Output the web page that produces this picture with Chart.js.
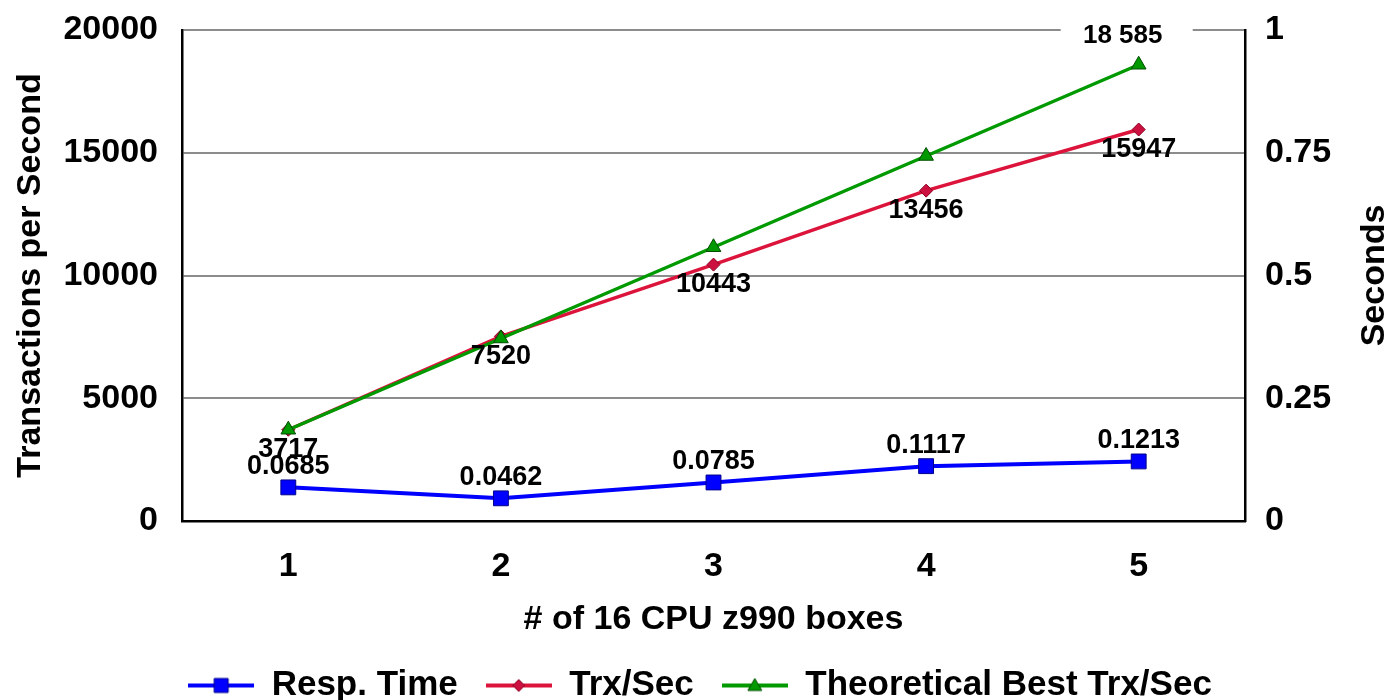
<!DOCTYPE html>
<html>
<head>
<meta charset="utf-8">
<script src="https://cdn.jsdelivr.net/npm/chart.js@4.4.1/dist/chart.umd.min.js"></script>
<style>
  body { margin: 0; background: #fff; }
  canvas { display: block; }
</style>
</head>
<body>
<canvas id="scaleChart" width="1400" height="700"></canvas>
<script>
// values
var boxes = ['1', '2', '3', '4', '5'];
var respTime = [0.0685, 0.0462, 0.0785, 0.1117, 0.1213];
var trxSec = [3717, 7520, 10443, 13456, 15947];
var bestTrxSec = [3717, 7434, 11151, 14868, 18585];
var bestLabels = ['', '', '', '', '18 585'];
var trxTicks = [0, 5000, 10000, 15000, 20000];
var secTicks = [0, 0.25, 0.5, 0.75, 1];

var FONT = '"Liberation Sans", Arial, sans-serif';

// little line + marker picture for the legend
function legendSwatch(color, shape, fill, edge) {
    var c = document.createElement('canvas');
    c.width = 66;
    c.height = 22;
    var g = c.getContext('2d');
    g.strokeStyle = color;
    g.lineWidth = 4;
    g.beginPath();
    g.moveTo(0, 11);
    g.lineTo(66, 11);
    g.stroke();
    g.fillStyle = fill;
    g.strokeStyle = edge;
    g.lineWidth = 1;
    g.beginPath();
    if (shape === 'rect') {
        g.rect(26, 4, 14, 14);
    } else if (shape === 'rectRot') {
        g.moveTo(33, 5); g.lineTo(39, 11); g.lineTo(33, 17); g.lineTo(27, 11);
        g.closePath();
    } else {
        g.moveTo(33, 4); g.lineTo(40, 16); g.lineTo(26, 16);
        g.closePath();
    }
    g.fill();
    g.stroke();
    return c;
}

// value labels next to the points
var valueLabels = {
    id: 'valueLabels',
    afterDatasetsDraw: function (chart) {
        var ctx = chart.ctx;
        ctx.save();
        ctx.font = 'bold 27px ' + FONT;
        ctx.textAlign = 'center';
        ctx.textBaseline = 'middle';
        ctx.fillStyle = '#000';

        // red below, then blue above (blue sits on top of red where they touch)
        chart.getDatasetMeta(1).data.forEach(function (pt, i) {
            ctx.fillText(String(trxSec[i]), pt.x, pt.y + 20);
        });
        chart.getDatasetMeta(0).data.forEach(function (pt, i) {
            ctx.fillText(String(respTime[i]), pt.x, pt.y - 21);
        });
        chart.getDatasetMeta(2).data.forEach(function (pt, i) {
            if (!bestLabels[i]) return;
            var cx = pt.x - 16, cy = pt.y - 29;
            ctx.font = 'bold 26px ' + FONT;
            ctx.fillStyle = '#fff';
            ctx.fillRect(cx - 62, cy - 15, 132, 30);
            ctx.fillStyle = '#000';
            ctx.fillText(bestLabels[i], cx, cy);
        });
        ctx.restore();
    }
};

// right axis title reads bottom to top, like the left one
var rightTitle = {
    id: 'rightTitle',
    afterDraw: function (chart) {
        var ctx = chart.ctx;
        var area = chart.chartArea;
        ctx.save();
        ctx.translate(chart.width - 25, (area.top + area.bottom) / 2);
        ctx.rotate(-Math.PI / 2);
        ctx.font = 'bold 34px ' + FONT;
        ctx.textAlign = 'center';
        ctx.textBaseline = 'middle';
        ctx.fillStyle = '#000';
        ctx.fillText('Seconds', 0, 0);
        ctx.restore();
    }
};

var swatches = [
    legendSwatch('#0000ff', 'rect', '#0000ff', '#00008a'),
    legendSwatch('#dc143c', 'rectRot', '#cc1040', '#8a0020'),
    legendSwatch('#009a00', 'triangle', '#009a00', '#004d00')
];

var canvas = document.getElementById('scaleChart');
var ctx = canvas.getContext('2d');

var chart = new Chart(ctx, {
    type: 'line',
    data: {
        labels: boxes,
        datasets: [{
            label: 'Resp. Time',
            data: respTime,
            yAxisID: 'y2',
            borderColor: '#0000ff',
            borderWidth: 4,
            pointStyle: 'rect',
            pointRadius: 10.5,
            pointBackgroundColor: '#0000ff',
            pointBorderColor: '#00008a',
            pointBorderWidth: 1,
            order: 2
        }, {
            label: 'Trx/Sec',
            data: trxSec,
            yAxisID: 'y',
            borderColor: '#dc143c',
            borderWidth: 3.5,
            pointStyle: 'rectRot',
            pointRadius: 6.5,
            pointBackgroundColor: '#cc1040',
            pointBorderColor: '#8a0020',
            pointBorderWidth: 1,
            order: 1
        }, {
            label: 'Theoretical Best Trx/Sec',
            data: bestTrxSec,
            yAxisID: 'y',
            borderColor: '#009a00',
            borderWidth: 3.5,
            pointStyle: 'triangle',
            pointRadius: 8.5,
            pointBackgroundColor: '#009a00',
            pointBorderColor: '#004d00',
            pointBorderWidth: 1,
            order: 0
        }]
    },
    options: {
        responsive: false,
        animation: false,
        layout: { padding: { top: 30, bottom: -13, left: 0, right: 0 } },
        plugins: {
            tooltip: { enabled: false },
            legend: {
                position: 'bottom',
                labels: {
                    usePointStyle: true,
                    pointStyleWidth: 66,
                    padding: 28,
                    color: '#000',
                    font: { family: FONT, size: 35, weight: 'bold' },
                    generateLabels: function (chart) {
                        return chart.data.datasets.map(function (ds, i) {
                            return {
                                text: ds.label,
                                pointStyle: swatches[i],
                                fillStyle: ds.borderColor,
                                strokeStyle: ds.borderColor,
                                lineWidth: 0,
                                hidden: false,
                                datasetIndex: i
                            };
                        });
                    }
                }
            }
        },
        scales: {
            x: {
                type: 'category',
                offset: true,
                grid: { display: false, drawTicks: false },
                border: { display: true, color: '#000', width: 2.5 },
                ticks: {
                    padding: 25,
                    color: '#000',
                    font: { family: FONT, size: 34, weight: 'bold' }
                },
                title: {
                    display: true,
                    text: '# of 16 CPU z990 boxes',
                    color: '#000',
                    padding: { top: 0, bottom: 0 },
                    font: { family: FONT, size: 34, weight: 'bold' }
                },
                afterFit: function (scale) { scale.height = 119; }
            },
            y: {
                position: 'left',
                min: trxTicks[0],
                max: trxTicks[trxTicks.length - 1],
                afterBuildTicks: function (scale) {
                    scale.ticks = trxTicks.map(function (v) { return { value: v }; });
                },
                grid: { color: '#8c8c8c', lineWidth: 2, drawTicks: false },
                border: { display: true, color: '#000', width: 2.5 },
                ticks: {
                    padding: 24,
                    color: '#000',
                    font: { family: FONT, size: 34, weight: 'bold' },
                    callback: function (v) { return String(v); }
                },
                title: {
                    display: true,
                    text: 'Transactions per Second',
                    color: '#000',
                    padding: { top: 10, bottom: 0 },
                    font: { family: FONT, size: 34, weight: 'bold' }
                },
                afterFit: function (scale) {
                    scale.width = 182;
                    scale.paddingTop = 0;
                    scale.paddingBottom = 0;
                }
            },
            y2: {
                position: 'right',
                min: secTicks[0],
                max: secTicks[secTicks.length - 1],
                afterBuildTicks: function (scale) {
                    scale.ticks = secTicks.map(function (v) { return { value: v }; });
                },
                grid: { drawOnChartArea: false, drawTicks: false },
                border: { display: true, color: '#000', width: 2.5 },
                ticks: {
                    padding: 20,
                    color: '#000',
                    font: { family: FONT, size: 34, weight: 'bold' },
                    callback: function (v) { return String(v); }
                },
                afterFit: function (scale) {
                    scale.width = 155;
                    scale.paddingTop = 0;
                    scale.paddingBottom = 0;
                }
            }
        }
    },
    plugins: [valueLabels, rightTitle]
});
</script>
</body>
</html>
